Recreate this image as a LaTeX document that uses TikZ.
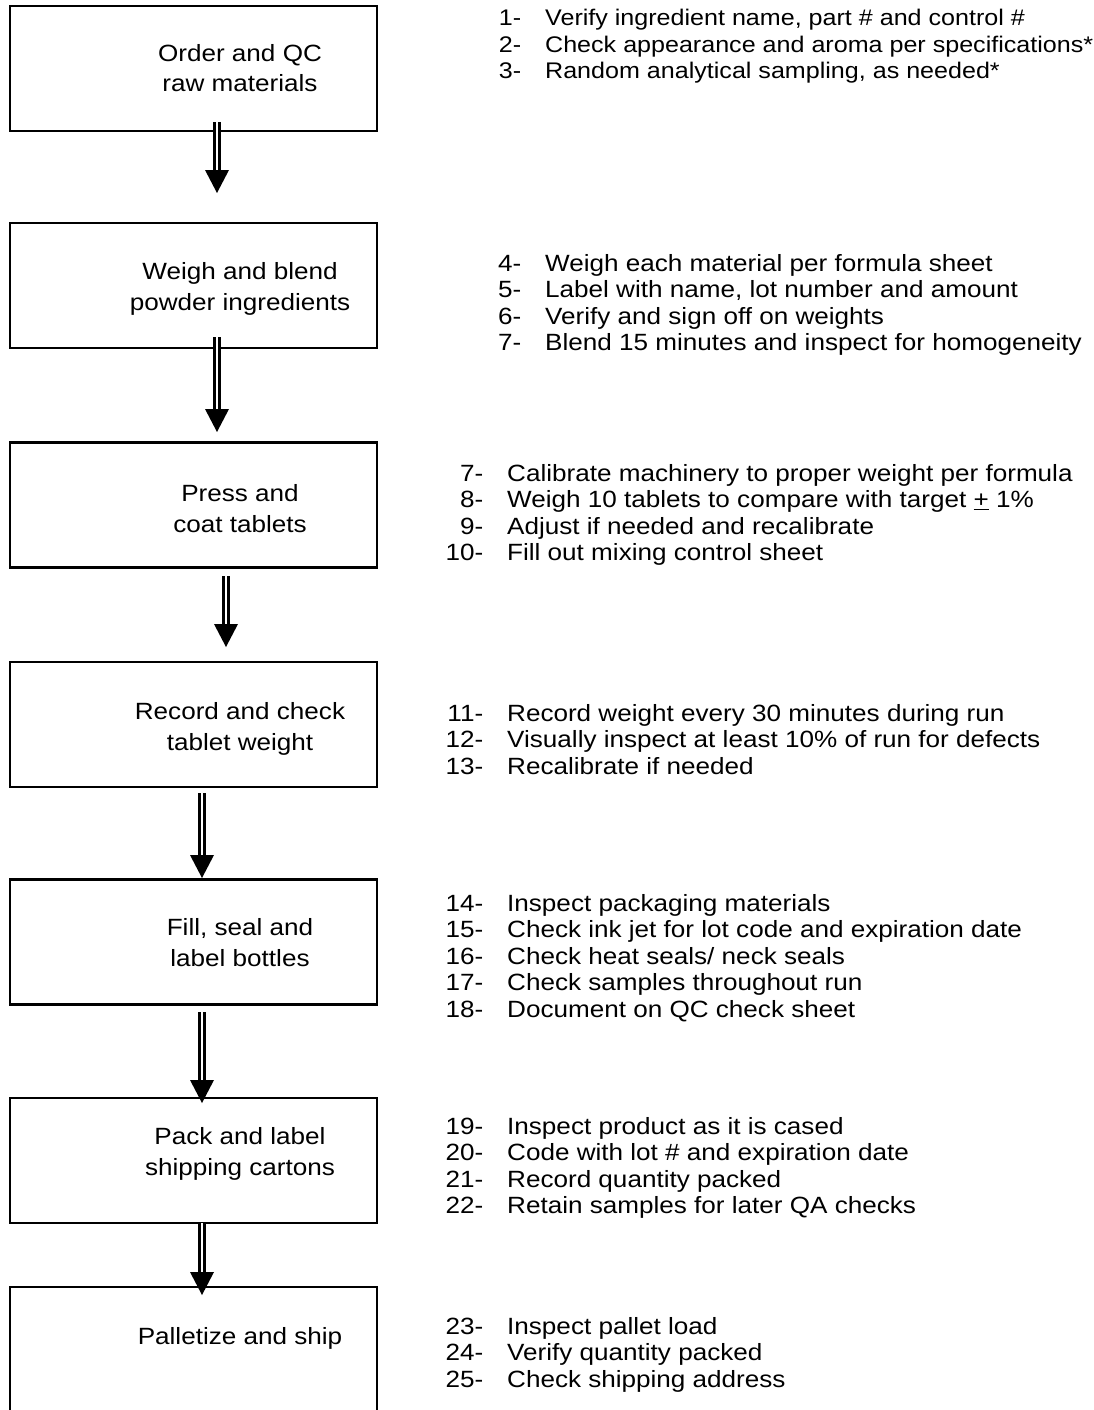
\documentclass[tikz,border=0pt]{standalone}
\usepackage{fontspec}
\setmainfont{Liberation Sans}[FakeStretch=1.11]
\usetikzlibrary{calc}
\newcommand\itm[2]{\makebox[60pt][r]{#1\hspace{24pt}}#2}
\tikzset{
  stepbox/.style={draw, line width=2.5pt, minimum width=367pt, minimum height=125pt, inner sep=0pt},
  openbox/.style={minimum width=367pt, minimum height=140pt, inner sep=0pt},
  boxtxt/.style={align=center, inner sep=0pt, anchor=base, font=\fontsize{23.5}{30.5}\selectfont},
  listtxt/.style={anchor=base west, inner sep=0pt, font=\fontsize{23.5}{26.5}\selectfont},
  firstlist/.style={listtxt, font=\fontsize{22.6}{26.5}\selectfont},
  shaft/.style={double, line width=2.5pt, double distance=2.5pt},
  headfill/.style={fill=black},
}
\newcommand\flowarrow[2]{%
  \draw[shaft] (#1) -- ($(#2)+(0,-21)$);
  \fill[headfill] ($(#2)+(-12,-23)$) -- (#2) -- ($(#2)+(12,-23)$) -- cycle;
}
\begin{document}
\begin{tikzpicture}[x=1pt,y=-1pt]
\useasboundingbox (0,0) rectangle (1094,1410);
\fill[white] (0,0) rectangle (1094,1410);

% boxes
\node[stepbox] (b1) at (193.5,68.5) {};
\node[stepbox] (b2) at (193.5,285.5) {};
\node[stepbox] (b3) at (193.5,505) {};
\node[stepbox] (b4) at (193.5,724.5) {};
\node[stepbox] (b5) at (193.5,942) {};
\node[stepbox] (b6) at (193.5,1160.5) {};
\node[openbox] (b7) at (193.5,1357) {};
\draw[line width=2.5pt] (b7.south west) -- (b7.north west) -- (b7.north east) -- (b7.south east);

% box labels (anchor = baseline of last line)
\node[boxtxt] (l1) at (240,92) {Order and QC\\raw materials};
\node[boxtxt] (l2) at (240,310) {Weigh and blend\\powder ingredients};
\node[boxtxt] (l3) at (240,532) {Press and\\coat tablets};
\node[boxtxt] (l4) at (240,750) {Record and check\\tablet weight};
\node[boxtxt] (l5) at (240,966) {Fill, seal and\\label bottles};
\node[boxtxt] (l6) at (240,1175) {Pack and label\\shipping cartons};
\node[boxtxt] (l7) at (240,1344) {Palletize and ship};

% arrows
\coordinate (a1s) at (217,122);  \coordinate (a1t) at (217,193);
\coordinate (a2s) at (217,337);  \coordinate (a2t) at (217,432);
\coordinate (a3s) at (226,576);  \coordinate (a3t) at (226,647);
\coordinate (a4s) at (202,793);  \coordinate (a4t) at (202,878);
\coordinate (a5s) at (202,1012); \coordinate (a5t) at (202,1103);
\coordinate (a6s) at (202,1223); \coordinate (a6t) at (202,1295);
\flowarrow{a1s}{a1t}
\flowarrow{a2s}{a2t}
\flowarrow{a3s}{a3t}
\flowarrow{a4s}{a4t}
\flowarrow{a5s}{a5t}
\flowarrow{a6s}{a6t}

% step lists
\node[firstlist] (r1) at (485,26) {\begin{tabular}[t]{@{}l@{}}
\itm{1-}{Verify ingredient name, part \# and control \#}\\
\itm{2-}{Check appearance and aroma per specifications*}\\
\itm{3-}{Random analytical sampling, as needed*}
\end{tabular}};
\node[listtxt] (r2) at (485,271) {\begin{tabular}[t]{@{}l@{}}
\itm{4-}{Weigh each material per formula sheet}\\
\itm{5-}{Label with name, lot number and amount}\\
\itm{6-}{Verify and sign off on weights}\\
\itm{7-}{Blend 15 minutes and inspect for homogeneity}
\end{tabular}};
\node[listtxt] (r3) at (447,481) {\begin{tabular}[t]{@{}l@{}}
\itm{7-}{Calibrate machinery to proper weight per formula}\\
\itm{8-}{Weigh 10 tablets to compare with target \underline{+} 1\%}\\
\itm{9-}{Adjust if needed and recalibrate}\\
\itm{10-}{Fill out mixing control sheet}
\end{tabular}};
\node[listtxt] (r4) at (447,721) {\begin{tabular}[t]{@{}l@{}}
\itm{11-}{Record weight every 30 minutes during run}\\
\itm{12-}{Visually inspect at least 10\% of run for defects}\\
\itm{13-}{Recalibrate if needed}
\end{tabular}};
\node[listtxt] (r5) at (447,911) {\begin{tabular}[t]{@{}l@{}}
\itm{14-}{Inspect packaging materials}\\
\itm{15-}{Check ink jet for lot code and expiration date}\\
\itm{16-}{Check heat seals/ neck seals}\\
\itm{17-}{Check samples throughout run}\\
\itm{18-}{Document on QC check sheet}
\end{tabular}};
\node[listtxt] (r6) at (447,1134) {\begin{tabular}[t]{@{}l@{}}
\itm{19-}{Inspect product as it is cased}\\
\itm{20-}{Code with lot \# and expiration date}\\
\itm{21-}{Record quantity packed}\\
\itm{22-}{Retain samples for later QA checks}
\end{tabular}};
\node[listtxt] (r7) at (447,1334) {\begin{tabular}[t]{@{}l@{}}
\itm{23-}{Inspect pallet load}\\
\itm{24-}{Verify quantity packed}\\
\itm{25-}{Check shipping address}
\end{tabular}};
\end{tikzpicture}
\end{document}
